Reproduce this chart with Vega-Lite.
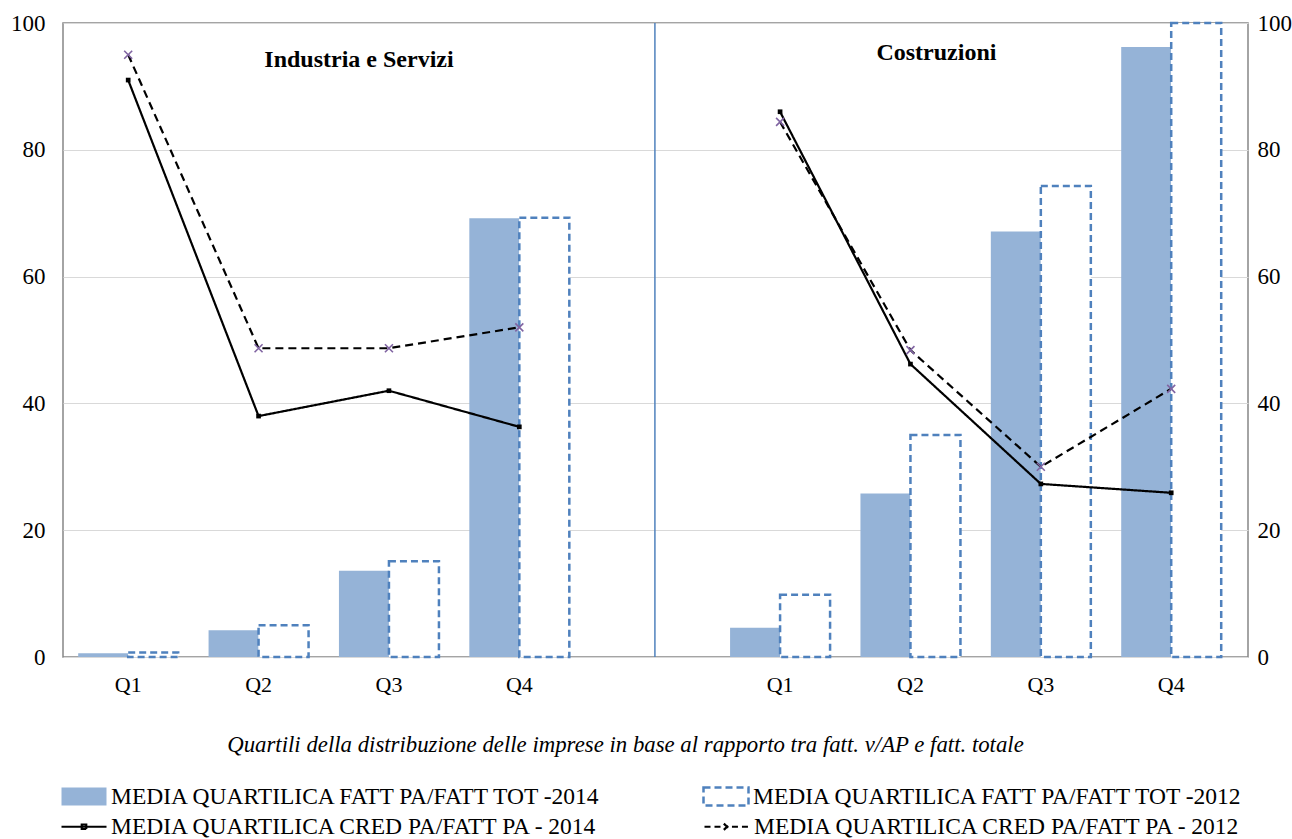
{
  "$schema": "https://vega.github.io/schema/vega-lite/v6.json",
  "autosize": {"type": "none"},
  "width": 1185,
  "height": 634,
  "padding": {"left": 63, "top": 23, "right": 44, "bottom": 182},
  "background": "white",
  "config": {
    "font": "Liberation Serif",
    "view": {"stroke": "#868686", "strokeWidth": 1.5}
  },
  "datasets": {
    "barre": [
      {"slot": "I1", "anno": "MEDIA QUARTILICA FATT PA/FATT TOT -2014", "valore": 0.6},
      {"slot": "I2", "anno": "MEDIA QUARTILICA FATT PA/FATT TOT -2014", "valore": 4.2},
      {"slot": "I3", "anno": "MEDIA QUARTILICA FATT PA/FATT TOT -2014", "valore": 13.6},
      {"slot": "I4", "anno": "MEDIA QUARTILICA FATT PA/FATT TOT -2014", "valore": 69.2},
      {"slot": "C1", "anno": "MEDIA QUARTILICA FATT PA/FATT TOT -2014", "valore": 4.6},
      {"slot": "C2", "anno": "MEDIA QUARTILICA FATT PA/FATT TOT -2014", "valore": 25.8},
      {"slot": "C3", "anno": "MEDIA QUARTILICA FATT PA/FATT TOT -2014", "valore": 67.1},
      {"slot": "C4", "anno": "MEDIA QUARTILICA FATT PA/FATT TOT -2014", "valore": 96.2},
      {"slot": "I1", "anno": "MEDIA QUARTILICA FATT PA/FATT TOT -2012", "valore": 0.7},
      {"slot": "I2", "anno": "MEDIA QUARTILICA FATT PA/FATT TOT -2012", "valore": 5.0},
      {"slot": "I3", "anno": "MEDIA QUARTILICA FATT PA/FATT TOT -2012", "valore": 15.1},
      {"slot": "I4", "anno": "MEDIA QUARTILICA FATT PA/FATT TOT -2012", "valore": 69.3},
      {"slot": "C1", "anno": "MEDIA QUARTILICA FATT PA/FATT TOT -2012", "valore": 9.8},
      {"slot": "C2", "anno": "MEDIA QUARTILICA FATT PA/FATT TOT -2012", "valore": 35.0},
      {"slot": "C3", "anno": "MEDIA QUARTILICA FATT PA/FATT TOT -2012", "valore": 74.3},
      {"slot": "C4", "anno": "MEDIA QUARTILICA FATT PA/FATT TOT -2012", "valore": 100.0}
    ],
    "linee": [
      {"slot": "I1", "settore": "Industria e Servizi", "serie": "MEDIA QUARTILICA CRED PA/FATT PA - 2014", "valore": 91.0},
      {"slot": "I2", "settore": "Industria e Servizi", "serie": "MEDIA QUARTILICA CRED PA/FATT PA - 2014", "valore": 38.0},
      {"slot": "I3", "settore": "Industria e Servizi", "serie": "MEDIA QUARTILICA CRED PA/FATT PA - 2014", "valore": 42.0},
      {"slot": "I4", "settore": "Industria e Servizi", "serie": "MEDIA QUARTILICA CRED PA/FATT PA - 2014", "valore": 36.3},
      {"slot": "C1", "settore": "Costruzioni", "serie": "MEDIA QUARTILICA CRED PA/FATT PA - 2014", "valore": 86.0},
      {"slot": "C2", "settore": "Costruzioni", "serie": "MEDIA QUARTILICA CRED PA/FATT PA - 2014", "valore": 46.2},
      {"slot": "C3", "settore": "Costruzioni", "serie": "MEDIA QUARTILICA CRED PA/FATT PA - 2014", "valore": 27.3},
      {"slot": "C4", "settore": "Costruzioni", "serie": "MEDIA QUARTILICA CRED PA/FATT PA - 2014", "valore": 25.9},
      {"slot": "I1", "settore": "Industria e Servizi", "serie": "MEDIA QUARTILICA CRED PA/FATT PA - 2012", "valore": 95.0},
      {"slot": "I2", "settore": "Industria e Servizi", "serie": "MEDIA QUARTILICA CRED PA/FATT PA - 2012", "valore": 48.7},
      {"slot": "I3", "settore": "Industria e Servizi", "serie": "MEDIA QUARTILICA CRED PA/FATT PA - 2012", "valore": 48.7},
      {"slot": "I4", "settore": "Industria e Servizi", "serie": "MEDIA QUARTILICA CRED PA/FATT PA - 2012", "valore": 52.0},
      {"slot": "C1", "settore": "Costruzioni", "serie": "MEDIA QUARTILICA CRED PA/FATT PA - 2012", "valore": 84.4},
      {"slot": "C2", "settore": "Costruzioni", "serie": "MEDIA QUARTILICA CRED PA/FATT PA - 2012", "valore": 48.4},
      {"slot": "C3", "settore": "Costruzioni", "serie": "MEDIA QUARTILICA CRED PA/FATT PA - 2012", "valore": 30.0},
      {"slot": "C4", "settore": "Costruzioni", "serie": "MEDIA QUARTILICA CRED PA/FATT PA - 2012", "valore": 42.3}
    ],
    "divisore": [{"slot": "gap"}]
  },
  "layer": [
    {
      "data": {"name": "barre"},
      "mark": {"type": "bar", "strokeWidth": 2.5},
      "encoding": {
        "x": {
          "field": "slot", "type": "nominal",
          "sort": ["I1", "I2", "I3", "I4", "gap", "C1", "C2", "C3", "C4"],
          "title": "Quartili della distribuzione delle imprese in base al rapporto tra fatt. v/AP e fatt. totale",
          "scale": {"domain": ["I1", "I2", "I3", "I4", "gap", "C1", "C2", "C3", "C4"], "paddingInner": 0, "paddingOuter": 0.0445, "align": 0},
          "axis": {
            "labelExpr": "datum.value == 'gap' ? '' : 'Q' + slice(datum.value, 1)",
            "ticks": false, "tickSize": 0, "domain": false, "grid": false,
            "labelAngle": 0, "labelFontSize": 22, "labelPadding": 17, "labelColor": "black",
            "titleFontSize": 22.8, "titleFontStyle": "italic", "titleFontWeight": "normal",
            "titleColor": "black", "titlePadding": 38, "titleAnchor": "middle", "titleX": 562
          }
        },
        "xOffset": {
          "field": "anno", "type": "nominal",
          "scale": {"domain": ["MEDIA QUARTILICA FATT PA/FATT TOT -2014", "MEDIA QUARTILICA FATT PA/FATT TOT -2012"], "paddingInner": 0, "paddingOuter": 0.3038}
        },
        "y": {
          "field": "valore", "type": "quantitative",
          "scale": {"domain": [0, 100], "nice": false},
          "axis": {
            "orient": "left", "values": [0, 20, 40, 60, 80, 100], "title": null,
            "grid": true, "gridColor": "#d9d9d9", "gridWidth": 1,
            "domain": false, "ticks": false, "tickSize": 0,
            "labelPadding": 18, "labelFontSize": 23, "labelColor": "black"
          }
        },
        "fill": {
          "field": "anno", "type": "nominal",
          "scale": {"domain": ["MEDIA QUARTILICA FATT PA/FATT TOT -2014", "MEDIA QUARTILICA FATT PA/FATT TOT -2012"], "range": ["#95b3d7", "#ffffff"]},
          "legend": {
            "title": null, "orient": "none", "legendX": -3, "legendY": 749.5,
            "direction": "horizontal", "symbolType": "M-1,-0.4H1V0.4H-1Z", "symbolSize": 2025,
            "symbolStrokeWidth": 2.5, "labelFontSize": 23.5, "labelLimit": 900,
            "labelColor": "black", "labelOffset": 3, "columnPadding": 95, "padding": 0
          }
        },
        "stroke": {
          "field": "anno", "type": "nominal",
          "scale": {"domain": ["MEDIA QUARTILICA FATT PA/FATT TOT -2014", "MEDIA QUARTILICA FATT PA/FATT TOT -2012"], "range": ["transparent", "#4f81bd"]}
        },
        "strokeDash": {
          "field": "anno", "type": "nominal",
          "scale": {"domain": ["MEDIA QUARTILICA FATT PA/FATT TOT -2014", "MEDIA QUARTILICA FATT PA/FATT TOT -2012"], "range": [[1, 0], [7, 4]]}
        }
      }
    },
    {
      "data": {"name": "divisore"},
      "mark": {"type": "rule", "color": "#4f81bd", "strokeWidth": 1.5},
      "encoding": {
        "x": {
          "field": "slot", "type": "nominal", "bandPosition": 0.54,
          "sort": ["I1", "I2", "I3", "I4", "gap", "C1", "C2", "C3", "C4"],
          "title": "Quartili della distribuzione delle imprese in base al rapporto tra fatt. v/AP e fatt. totale",
          "scale": {"domain": ["I1", "I2", "I3", "I4", "gap", "C1", "C2", "C3", "C4"]}
        }
      }
    },
    {
      "data": {"name": "linee"},
      "mark": {"type": "line", "color": "black", "strokeWidth": 2.2},
      "encoding": {
        "x": {
          "field": "slot", "type": "nominal",
          "sort": ["I1", "I2", "I3", "I4", "gap", "C1", "C2", "C3", "C4"],
          "title": "Quartili della distribuzione delle imprese in base al rapporto tra fatt. v/AP e fatt. totale",
          "scale": {"domain": ["I1", "I2", "I3", "I4", "gap", "C1", "C2", "C3", "C4"]}
        },
        "y": {"field": "valore", "type": "quantitative", "scale": {"domain": [0, 100], "nice": false}, "axis": null},
        "detail": {"field": "settore", "type": "nominal"},
        "strokeDash": {
          "field": "serie", "type": "nominal",
          "scale": {"domain": ["MEDIA QUARTILICA CRED PA/FATT PA - 2014", "MEDIA QUARTILICA CRED PA/FATT PA - 2012"], "range": [[1, 0], [8, 5]]},
          "legend": null
        }
      }
    },
    {
      "data": {"name": "linee"},
      "transform": [{"filter": "datum.serie == 'MEDIA QUARTILICA CRED PA/FATT PA - 2014'"}],
      "mark": {"type": "point", "shape": "square", "filled": true, "color": "black", "size": 22, "opacity": 1},
      "encoding": {
        "x": {
          "field": "slot", "type": "nominal",
          "sort": ["I1", "I2", "I3", "I4", "gap", "C1", "C2", "C3", "C4"],
          "title": "Quartili della distribuzione delle imprese in base al rapporto tra fatt. v/AP e fatt. totale",
          "scale": {"domain": ["I1", "I2", "I3", "I4", "gap", "C1", "C2", "C3", "C4"]}
        },
        "y": {"field": "valore", "type": "quantitative", "scale": {"domain": [0, 100], "nice": false}, "axis": null}
      }
    },
    {
      "data": {"name": "linee"},
      "transform": [{"filter": "datum.serie == 'MEDIA QUARTILICA CRED PA/FATT PA - 2012'"}],
      "mark": {"type": "point", "shape": "M-1,-1L1,1M-1,1L1,-1", "filled": false, "color": "#8064a2", "size": 64, "strokeWidth": 1.6, "opacity": 1},
      "encoding": {
        "x": {
          "field": "slot", "type": "nominal",
          "sort": ["I1", "I2", "I3", "I4", "gap", "C1", "C2", "C3", "C4"],
          "title": "Quartili della distribuzione delle imprese in base al rapporto tra fatt. v/AP e fatt. totale",
          "scale": {"domain": ["I1", "I2", "I3", "I4", "gap", "C1", "C2", "C3", "C4"]}
        },
        "y": {"field": "valore", "type": "quantitative", "scale": {"domain": [0, 100], "nice": false}, "axis": null}
      }
    },
    {
      "data": {"name": "linee"},
      "mark": {"type": "point", "opacity": 0, "filled": false, "color": "black", "strokeWidth": 2.2},
      "encoding": {
        "x": {
          "field": "slot", "type": "nominal",
          "sort": ["I1", "I2", "I3", "I4", "gap", "C1", "C2", "C3", "C4"],
          "title": "Quartili della distribuzione delle imprese in base al rapporto tra fatt. v/AP e fatt. totale",
          "scale": {"domain": ["I1", "I2", "I3", "I4", "gap", "C1", "C2", "C3", "C4"]}
        },
        "y": {
          "field": "valore", "type": "quantitative",
          "scale": {"domain": [0, 100], "nice": false},
          "axis": {
            "orient": "right", "values": [0, 20, 40, 60, 80, 100], "title": null,
            "grid": false, "domain": false, "ticks": false, "tickSize": 0,
            "labelPadding": 9, "labelFontSize": 23, "labelColor": "black"
          }
        },
        "shape": {
          "field": "serie", "type": "nominal",
          "scale": {
            "domain": ["MEDIA QUARTILICA CRED PA/FATT PA - 2014", "MEDIA QUARTILICA CRED PA/FATT PA - 2012"],
            "range": ["M-1,0H1M-0.1,-0.1H0.1V0.1H-0.1Z", "M-1,0H-0.22M0.22,0H1M-0.14,-0.14L0.14,0.14M-0.14,0.14L0.14,-0.14"]
          },
          "legend": {
            "title": null, "orient": "none", "legendX": -3, "legendY": 779.5,
            "direction": "horizontal", "symbolSize": 2025, "symbolStrokeWidth": 2.2,
            "symbolOpacity": 1, "symbolStrokeColor": "black", "labelFontSize": 23.5, "labelLimit": 900,
            "labelColor": "black", "labelOffset": 3, "columnPadding": 100, "padding": 0
          }
        },
        "strokeDash": {
          "field": "serie", "type": "nominal",
          "scale": {"domain": ["MEDIA QUARTILICA CRED PA/FATT PA - 2014", "MEDIA QUARTILICA CRED PA/FATT PA - 2012"], "range": [[1, 0], [6, 4]]}
        }
      }
    },
    {
      "data": {"values": [{}]},
      "mark": {"type": "text", "text": "Industria  e Servizi", "fontSize": 24, "fontWeight": "bold", "color": "black", "dx": -30},
      "encoding": {
        "x": {"datum": "I3", "type": "nominal", "title": "Quartili della distribuzione delle imprese in base al rapporto tra fatt. v/AP e fatt. totale", "scale": {"domain": ["I1", "I2", "I3", "I4", "gap", "C1", "C2", "C3", "C4"]}},
        "y": {"datum": 94.2, "type": "quantitative", "scale": {"domain": [0, 100], "nice": false}, "axis": null}
      }
    },
    {
      "data": {"values": [{}]},
      "mark": {"type": "text", "text": "Costruzioni", "fontSize": 24, "fontWeight": "bold", "color": "black", "dx": 26},
      "encoding": {
        "x": {"datum": "C2", "type": "nominal", "title": "Quartili della distribuzione delle imprese in base al rapporto tra fatt. v/AP e fatt. totale", "scale": {"domain": ["I1", "I2", "I3", "I4", "gap", "C1", "C2", "C3", "C4"]}},
        "y": {"datum": 95.3, "type": "quantitative", "scale": {"domain": [0, 100], "nice": false}, "axis": null}
      }
    }
  ],
  "resolve": {
    "scale": {"fill": "independent", "stroke": "independent", "strokeDash": "independent", "shape": "independent"},
    "axis": {"y": "independent"}
  }
}
